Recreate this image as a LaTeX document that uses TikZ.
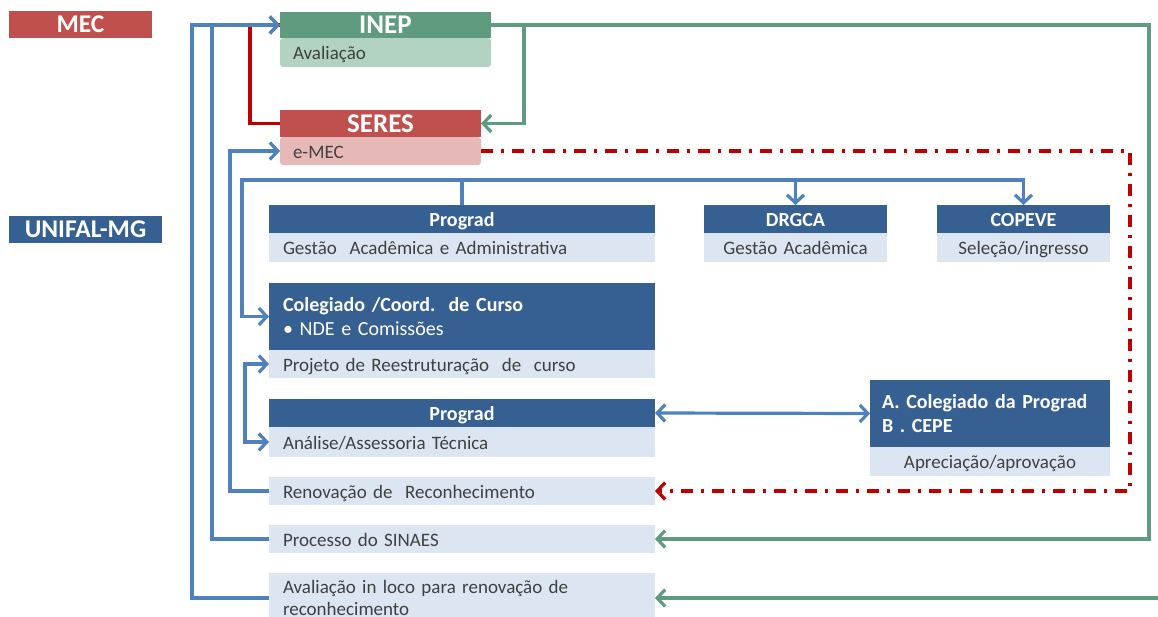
\documentclass[tikz,border=0pt]{standalone}
\usepackage{fontspec}
\setmainfont{Carlito}
\usetikzlibrary{arrows.meta, positioning}

\definecolor{mecred}{HTML}{C0504D}
\definecolor{mecpink}{HTML}{E6B9B8}
\definecolor{inepgreen}{HTML}{5F9B7E}
\definecolor{ineplight}{HTML}{B3D3C2}
\definecolor{unifblue}{HTML}{376092}
\definecolor{unifpale}{HTML}{DCE6F2}
\definecolor{lineblue}{HTML}{4F81BD}
\definecolor{linegreen}{HTML}{5F9B7E}
\definecolor{linered}{HTML}{C00000}
\definecolor{textgray}{HTML}{404040}

\begin{document}
\begin{tikzpicture}[
    x=1pt, y=-1pt,
    every node/.style={inner sep=0pt, outer sep=0pt, anchor=north west},
    bigtitle/.style={text=white, font=\fontsize{27}{29}\selectfont\bfseries, minimum height=27pt},
    hdr/.style={fill=unifblue, text=white, font=\fontsize{20}{24}\selectfont\bfseries, minimum height=28pt},
    pale/.style={fill=unifpale, text=textgray, font=\fontsize{19}{23}\selectfont, minimum height=29pt},
    oneline/.style={text height=17pt, text depth=3pt},
    wide/.style={text width=358pt, inner xsep=14pt},
    arrow/.style={line width=3.2pt, -{Straight Barb[length=8pt, width=17pt]}},
    both/.style={line width=3.2pt, {Straight Barb[length=8pt, width=17pt]}-{Straight Barb[length=8pt, width=17pt]}}
]
\useasboundingbox (0,0) rectangle (1158,616);

% Legend
\node[bigtitle, font=\fontsize{25.5}{28}\selectfont\bfseries, fill=mecred, minimum width=143pt, align=center] (mec) at (9,11) {MEC};
\node[bigtitle, font=\fontsize{25.5}{28}\selectfont\bfseries, fill=unifblue, minimum width=153pt, align=center] (unif) at (9,216) {UNIFAL-MG};

% MEC
\node[bigtitle, fill=inepgreen, minimum width=211pt, minimum height=26pt, align=center] (inep) at (280,12) {INEP};
\node[pale, oneline, fill=ineplight, rounded corners=3pt, text width=185pt, inner xsep=13pt, align=left, below=0pt of inep] (aval) {Avaliação};
\node[bigtitle, fill=mecred, minimum width=201pt, align=center] (seres) at (280,110) {SERES};
\node[pale, oneline, fill=mecpink, rounded corners=3pt, minimum height=28pt, text width=175pt, inner xsep=13pt, align=left, below=0pt of seres] (emec) {e-MEC};

% Row 1
\node[hdr, oneline, wide, align=center] (pg1) at (269,205) {Prograd};
\node[pale, oneline, wide, align=left, below=0pt of pg1] (ges) {Gestão\ \ Acadêmica e Administrativa};
\node[hdr, oneline, text width=183pt, align=center] (drg) at (704,205) {DRGCA};
\node[pale, oneline, text width=183pt, align=center, below=0pt of drg] (gac) {Gestão Acadêmica};
\node[hdr, oneline, text width=173pt, align=center] (cop) at (937,205) {COPEVE};
\node[pale, oneline, text width=173pt, align=center, below=0pt of cop] (sel) {Seleção/ingresso};

% Row 2
\node[hdr, wide, align=left, minimum height=67pt] (col) at (269,283) {Colegiado /Coord.\ \ de Curso\\{\mdseries • NDE e Comissões}};
\node[pale, oneline, wide, align=left, minimum height=28pt, below=0pt of col] (proj) {Projeto de Reestruturação\ \ de\ \ curso};

% Row 3
\node[hdr, oneline, wide, align=center] (pg2) at (269,399) {Prograd};
\node[pale, oneline, wide, align=left, minimum height=30pt, below=0pt of pg2] (ana) {Análise/Assessoria Técnica};
\node[hdr, text width=216pt, inner xsep=12pt, align=left, minimum height=67pt] (cepe) at (870,380) {A. Colegiado da Prograd\\B . CEPE};
\node[pale, oneline, text width=240pt, align=center, below=0pt of cepe] (apr) {Apreciação/aprovação};

% Processos
\node[pale, oneline, wide, align=left, minimum height=28pt] (ren) at (269,477) {Renovação de\ \ Reconhecimento};
\node[pale, oneline, wide, align=left, minimum height=28pt] (sin) at (269,525) {Processo do SINAES};
\node[pale, wide, align=left, font=\fontsize{19}{22}\selectfont, inner ysep=3pt, minimum height=50pt] (loco) at (269,573) {Avaliação in loco para renovação de\\reconhecimento};

% Pontos livres
\coordinate (bus) at (242,180);
\coordinate (g1) at (1149,0);
\coordinate (g2) at (1158,598);
\coordinate (r1) at (1130,0);

% MEC links
\draw[linered, line width=3.2pt] (inep.west) -- ++(-30,0) |- (seres.west);
\draw[arrow, linegreen] (inep.east) -- ++(33,0) |- (seres.east);
\draw[arrow, linegreen] (inep.east) -| (g1 |- sin.east) -- (sin.east);
\draw[arrow, linegreen] (g2) -- (g2 -| loco.east);
\draw[arrow, linered, dash pattern=on 12pt off 8pt on 3pt off 8pt] (emec.east) -| (r1 |- ren.east) -- (ren.east);

% UNIFAL links
\draw[arrow, lineblue] (loco.west) -| ([xshift=-77pt]loco.west |- inep.west) -- (inep.west);
\draw[arrow, lineblue] (sin.west) -| ([xshift=-57pt]sin.west |- inep.west) -- (inep.west);
\draw[arrow, lineblue] (ren.west) -| ([xshift=-39pt]ren.west |- emec.west) -- (emec.west);
\draw[arrow, lineblue] (pg1.north) |- (bus) |- (col.west);
\draw[arrow, lineblue] (pg1.north) |- (cop.north |- bus) -- (cop.north);
\draw[arrow, lineblue] (drg.north |- bus) -- (drg.north);
\draw[both, lineblue] (proj.west) -- ++(-24,0) |- (ana.west);
\draw[both, lineblue] (pg2.east) -- (cepe.west);
\end{tikzpicture}
\end{document}
